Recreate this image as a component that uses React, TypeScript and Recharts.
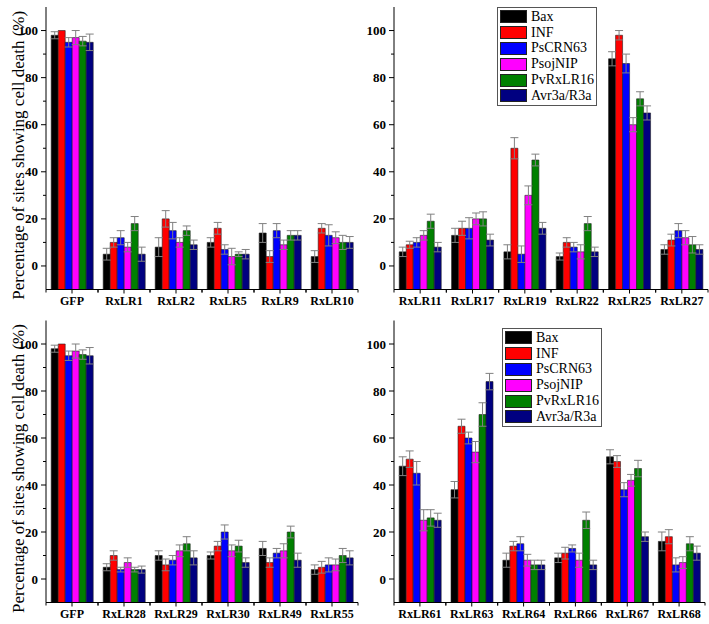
import React from 'react';
import { BarChart, Bar, XAxis, YAxis, ErrorBar, Legend } from 'recharts';

const seriesNames = ['Bax', 'INF', 'PsCRN63', 'PsojNIP', 'PvRxLR16', 'Avr3a/R3a'];
const seriesColors = ['#000000', '#ff0000', '#0000ff', '#ff00ff', '#008000', '#000080'];

const catsTL = ['GFP', 'RxLR1', 'RxLR2', 'RxLR5', 'RxLR9', 'RxLR10'];
const valsTL = [
  [98, 100, 95, 97, 95.5, 95],
  [5, 10, 12, 8, 18, 5],
  [8, 20, 15, 10, 15, 9],
  [10, 16, 7, 4, 5, 5],
  [14, 4, 15, 9, 13, 13],
  [4, 16, 13, 12, 10, 10],
];
const errsTL = [
  [1.5, 0, 2, 3, 2, 3.5],
  [2.5, 2, 3, 2, 3, 3],
  [4, 3.5, 3.5, 2, 2, 2],
  [2, 2.5, 2, 3.5, 1, 2],
  [4, 2.5, 3, 2, 2, 2],
  [2.5, 2, 4.5, 2.5, 3, 2.5],
];

const catsTR = ['RxLR11', 'RxLR17', 'RxLR19', 'RxLR22', 'RxLR25', 'RxLR27'];
const valsTR = [
  [6, 9, 10, 13, 19, 8],
  [13, 16, 16, 20, 20, 11],
  [6, 50, 5, 30, 45, 16],
  [4, 10, 8, 6, 18, 6],
  [88, 98, 86, 60, 71, 65],
  [7, 11, 15, 12, 9, 7],
];
const errsTR = [
  [2, 1.5, 2, 2, 3, 2],
  [3, 3, 4.5, 2.5, 3, 2.5],
  [3, 4.5, 3.5, 4, 2.5, 2.5],
  [1.5, 2, 2, 3, 3, 2],
  [3, 2, 4, 3, 3, 3],
  [2, 2.5, 3, 3, 3.5, 2],
];

const catsBL = ['GFP', 'RxLR28', 'RxLR29', 'RxLR30', 'RxLR49', 'RxLR55'];
const valsBL = [
  [98, 100, 95, 97, 95.5, 95],
  [5, 10, 4, 7, 4, 4],
  [10, 6, 8, 12, 15, 9],
  [10, 14, 20, 12, 14, 7],
  [13, 7, 11, 12, 20, 8],
  [4, 5, 6, 6, 10, 9],
];
const errsBL = [
  [1.5, 0, 2, 3, 2, 3.5],
  [1.5, 2, 1, 2, 1, 1.5],
  [2, 2.5, 2, 2.5, 3, 3],
  [1.5, 2, 3, 2.5, 2.5, 2],
  [3, 2, 2, 3, 2.5, 3],
  [2, 2.5, 3, 2.5, 3, 3],
];

const catsBR = ['RxLR61', 'RxLR63', 'RxLR64', 'RxLR66', 'RxLR67', 'RxLR68'];
const valsBR = [
  [48, 51, 45, 25, 26, 25],
  [38, 65, 60, 54, 70, 84],
  [8, 14, 15, 8, 6, 6],
  [9, 11, 13, 8, 25, 6],
  [52, 50, 38, 42, 47, 18],
  [16, 18, 6, 7, 15, 11],
];
const errsBR = [
  [4, 3.5, 5, 4.5, 3.5, 3],
  [3.5, 3, 2.5, 4.5, 5, 3.5],
  [3, 2, 3, 2.5, 2, 2],
  [2, 2.5, 1.5, 3, 3.5, 2],
  [3, 2.5, 3, 2.5, 3.5, 2],
  [4, 3, 3, 2.5, 3, 3],
];

const yTicks = [0, 10, 20, 30, 40, 50, 60, 70, 80, 90, 100];
const yLabel = 'Percentage of sites showing cell death (%)';
const FONT = '"Liberation Serif", "Times New Roman", Times, serif';

function build(cats: string[], vals: number[][], errs: number[][]) {
  return cats.map((c, i) => {
    const row: any = { name: c };
    seriesNames.forEach((_, j) => {
      row['v' + j] = [-10, vals[i][j]];
      row['e' + j] = errs[i][j];
    });
    return row;
  });
}

const renderLegend = () => (
  <div
    style={{
      border: '1px solid #555',
      background: '#fff',
      padding: '1px 2px 1px 2px',
      fontFamily: FONT,
      fontSize: 14,
      color: '#000',
      lineHeight: 1,
    }}
  >
    {seriesNames.map((s, j) => (
      <div key={s} style={{ display: 'flex', alignItems: 'center', height: 15.8 }}>
        <span
          style={{
            display: 'inline-block',
            width: 27,
            height: 13,
            background: seriesColors[j],
            border: '1px solid #222',
            marginRight: 4,
            boxSizing: 'border-box',
          }}
        />
        <span>{s}</span>
      </div>
    ))}
  </div>
);

const YTick = (props: any) => {
  const { x, y, payload } = props;
  const v = payload.value;
  const major = v % 20 === 0;
  const ax = x + 8;
  return (
    <g>
      <line x1={ax - (major ? 5 : 3)} x2={ax} y1={y} y2={y} stroke="#000" strokeWidth={1} />
      {major && (
        <text x={x} y={y} textAnchor="end" dominantBaseline="central" fill="#000" style={{ fontFamily: FONT, fontSize: 13, fontWeight: 'bold' }}>
          {v}
        </text>
      )}
    </g>
  );
};

const makeXTick = (band: number) => (props: any) => {
  const { x, y, payload } = props;
  const ay = y - 4;
  return (
    <g>
      <line x1={x} x2={x} y1={ay} y2={ay + 4} stroke="#000" strokeWidth={1} />
      <line x1={x - band / 2} x2={x - band / 2} y1={ay} y2={ay + 3} stroke="#000" strokeWidth={1} />
      <line x1={x + band / 2} x2={x + band / 2} y1={ay} y2={ay + 3} stroke="#000" strokeWidth={1} />
      <text x={x} y={ay + 15} textAnchor="middle" fill="#000" style={{ fontFamily: FONT, fontSize: 12, fontWeight: 'bold' }}>
        {payload.value}
      </text>
    </g>
  );
};

type PanelProps = {
  cats: string[];
  vals: number[][];
  errs: number[][];
  left: number;
  top: number;
  width: number;
  marginTop: number;
  marginRight: number;
  yAxisWidth: number;
  xAxisHeight: number;
  showYLabel: boolean;
  legendPos?: { left: number; top: number };
};

function Panel(p: PanelProps) {
  const data = build(p.cats, p.vals, p.errs);
  const band = (p.width - p.marginRight - p.yAxisWidth) / p.cats.length;
  return (
    <div style={{ position: 'absolute', left: p.left, top: p.top, fontFamily: FONT }}>
      <BarChart
        width={p.width}
        height={312}
        data={data}
        margin={{ top: p.marginTop, right: p.marginRight, left: 0, bottom: 0 }}
        barCategoryGap="10%"
        barGap={0}
        style={{ fontFamily: FONT }}
      >
        <XAxis
          dataKey="name"
          height={p.xAxisHeight}
          axisLine={{ stroke: '#000', strokeWidth: 1 }}
          tickLine={false}
          tickSize={0}
          tickMargin={4}
          tick={makeXTick(band)}
          interval={0}
        />
        <YAxis
          width={p.yAxisWidth}
          type="number"
          domain={[-10, 110]}
          ticks={yTicks}
          interval={0}
          tickSize={5}
          tickMargin={3}
          axisLine={{ stroke: '#000', strokeWidth: 1 }}
          tickLine={false}
          tick={<YTick />}
          label={
            p.showYLabel
              ? {
                  content: (lp: any) => {
                    const vb = lp.viewBox || {};
                    const cy = (vb.y || 0) + (vb.height || 0) / 2 + 7;
                    return (
                      <text
                        x={18}
                        y={cy}
                        transform={`rotate(-90, 18, ${cy})`}
                        textAnchor="middle"
                        dominantBaseline="central"
                        style={{ fontFamily: FONT, fontSize: 17 }}
                        fill="#000"
                      >
                        {yLabel}
                      </text>
                    );
                  },
                }
              : undefined
          }
        />
        {p.legendPos && (
          <Legend
            layout="vertical"
            align="center"
            verticalAlign="middle"
            content={renderLegend}
            wrapperStyle={{ position: 'absolute', left: p.legendPos.left, top: p.legendPos.top, width: 'auto' }}
          />
        )}
        {seriesNames.map((s, j) => (
          <Bar
            key={s}
            name={s}
            dataKey={'v' + j}
            fill={seriesColors[j]}
            stroke="#222"
            strokeWidth={0.6}
            isAnimationActive={false}
            legendType="rect"
          >
            <ErrorBar dataKey={'e' + j} width={4} stroke="#808080" strokeWidth={1} direction="y" />
          </Bar>
        ))}
      </BarChart>
    </div>
  );
}

export default function App() {
  return (
    <div style={{ position: 'absolute', left: 0, top: 0, width: 709, height: 624, background: '#fff', overflow: 'hidden', fontFamily: FONT }}>
      <Panel cats={catsTL} vals={valsTL} errs={errsTL} left={0} top={0} width={360} marginTop={7} marginRight={2} yAxisWidth={46} xAxisHeight={22.5} showYLabel />
      <Panel cats={catsTR} vals={valsTR} errs={errsTR} left={350} top={0} width={359} marginTop={7} marginRight={1} yAxisWidth={44} xAxisHeight={22.5} showYLabel={false} legendPos={{ left: 147, top: 7 }} />
      <Panel cats={catsBL} vals={valsBL} errs={errsBL} left={0} top={312} width={360} marginTop={8.5} marginRight={2} yAxisWidth={46} xAxisHeight={21.5} showYLabel />
      <Panel cats={catsBR} vals={valsBR} errs={errsBR} left={350} top={312} width={359} marginTop={8.5} marginRight={4} yAxisWidth={44} xAxisHeight={21.5} showYLabel={false} legendPos={{ left: 152, top: 16 }} />
    </div>
  );
}
